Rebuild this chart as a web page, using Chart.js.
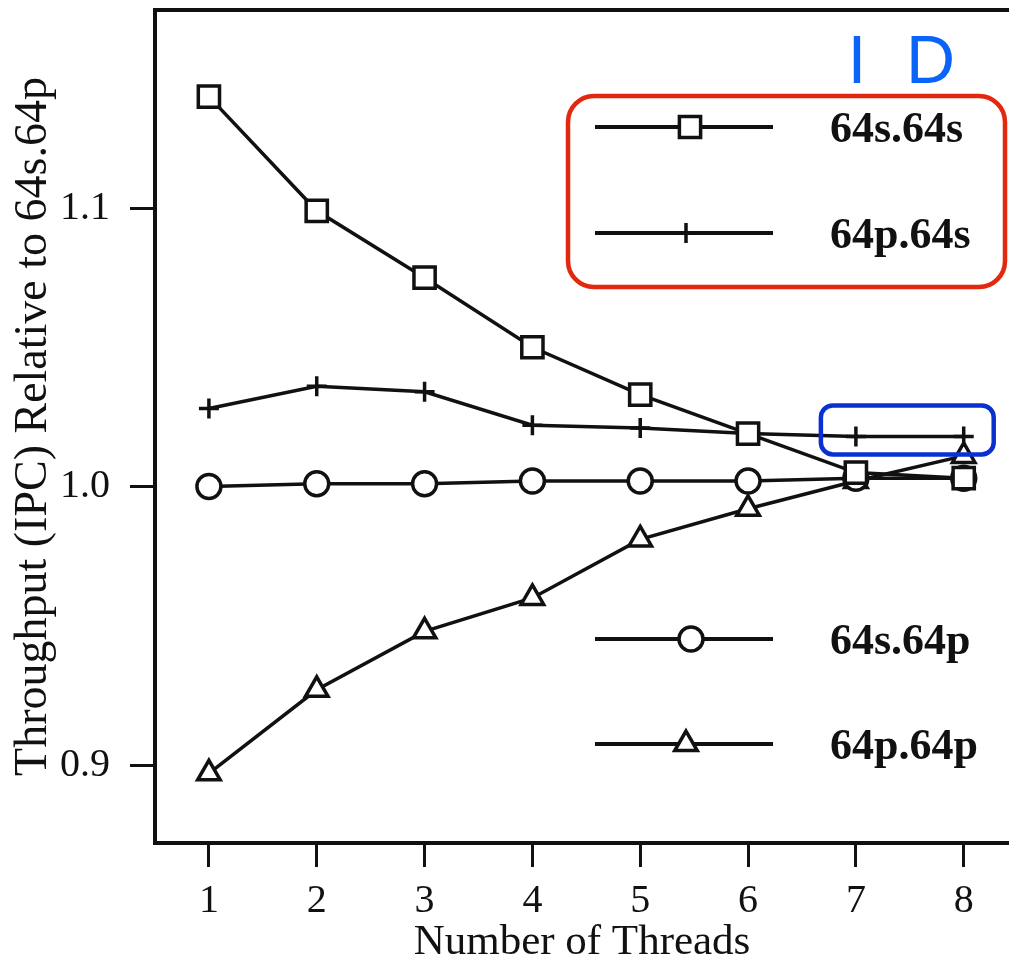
<!DOCTYPE html>
<html>
<head>
<meta charset="utf-8">
<title>Throughput relative to 64s.64p</title>
<script src="https://cdn.jsdelivr.net/npm/chart.js@4.4.1/dist/chart.umd.min.js"></script>
<style>
  html, body { margin: 0; padding: 0; background: #ffffff; overflow: hidden; }
  canvas { display: block; }
</style>
</head>
<body>
<canvas id="chart" width="1009" height="960"></canvas>
<script>
// Number of threads on the x axis
const threads = [1, 2, 3, 4, 5, 6, 7, 8];

// Throughput (IPC) relative to 64s.64p, one array per configuration
const s64s64 = [1.140, 1.099, 1.075, 1.050, 1.033, 1.019, 1.005, 1.003];
const p64s64 = [1.028, 1.036, 1.034, 1.022, 1.021, 1.019, 1.018, 1.018];
const s64p64 = [1.000, 1.001, 1.001, 1.002, 1.002, 1.002, 1.003, 1.003];
const p64p64 = [0.897, 0.927, 0.948, 0.960, 0.981, 0.992, 1.002, 1.011];

const seriesNames = ['64s.64s', '64p.64s', '64s.64p', '64p.64p'];
const seriesValues = [s64s64, p64s64, s64p64, p64p64];
const pointStyles = ['rect', 'cross', 'circle', 'triangle'];
const pointRadii = [15, 10, 12, 13];

const yTicks = [0.9, 1.0, 1.1];
const xTitle = 'Number of Threads';
const yTitle = 'Throughput (IPC) Relative to 64s.64p';

const SERIF = '"Liberation Serif", "Times New Roman", "DejaVu Serif", serif';
const SANS = '"Liberation Sans", Arial, Roboto, sans-serif';
const INK = '#111111';

const datasets = seriesNames.map((name, i) => ({
  label: name,
  data: threads.map((t, j) => ({ x: t, y: seriesValues[i][j] })),
  borderColor: INK,
  borderWidth: 3.5,
  tension: 0,
  pointStyle: pointStyles[i],
  pointRadius: pointRadii[i],
  pointHoverRadius: pointRadii[i],
  pointBorderWidth: 3.5,
  pointBorderColor: INK,
  pointBackgroundColor: '#ffffff',
  fill: false
}));

// Keep the plot area flush with the axes: no extra room for edge labels
function noEdgePadding(scale) {
  scale.paddingTop = 0;
  scale.paddingBottom = 0;
  scale.paddingLeft = 0;
  scale.paddingRight = 0;
}

// Top edge of the plot frame
const framePlugin = {
  id: 'frame',
  beforeDatasetsDraw(chart) {
    const { ctx, chartArea } = chart;
    ctx.save();
    ctx.strokeStyle = INK;
    ctx.lineWidth = 4;
    ctx.beginPath();
    ctx.moveTo(chartArea.left - 2, chartArea.top);
    ctx.lineTo(chart.width, chartArea.top);
    ctx.stroke();
    ctx.restore();
  }
};

// Two-part key drawn inside the plot
const keyPlugin = {
  id: 'key',
  afterDatasetsDraw(chart) {
    const { ctx } = chart;
    const rows = [127, 233, 639, 744];
    const markerX = [690, 686, 691, 686];
    ctx.save();
    rows.forEach((y, i) => {
      ctx.strokeStyle = INK;
      ctx.lineWidth = 4;
      ctx.beginPath();
      ctx.moveTo(595, y);
      ctx.lineTo(773, y);
      ctx.stroke();
      ctx.fillStyle = '#ffffff';
      ctx.lineWidth = 3.5;
      Chart.helpers.drawPoint(ctx, {
        pointStyle: pointStyles[i],
        radius: pointRadii[i],
        rotation: 0,
        borderWidth: 3.5
      }, markerX[i], y);
      ctx.fillStyle = INK;
      ctx.font = 'bold 44px ' + SERIF;
      ctx.textAlign = 'left';
      ctx.textBaseline = 'middle';
      ctx.fillText(seriesNames[i], 830, y + 4);
    });
    ctx.restore();
  }
};

// Highlight boxes and I / D marks
const markupPlugin = {
  id: 'markup',
  afterDraw(chart) {
    const { ctx, scales } = chart;
    ctx.save();
    // red box round the upper key
    ctx.strokeStyle = '#E2280E';
    ctx.lineWidth = 4.5;
    ctx.beginPath();
    ctx.roundRect(568, 96, 437, 191, 26);
    ctx.stroke();

    // blue box round the last 64p.64s segment
    const x7 = scales.x.getPixelForValue(threads[6]);
    const x8 = scales.x.getPixelForValue(threads[7]);
    const yp = scales.y.getPixelForValue(p64s64[7]);
    ctx.strokeStyle = '#0B30D2';
    ctx.lineWidth = 4.5;
    ctx.beginPath();
    ctx.roundRect(x7 - 35, yp - 31, (x8 - x7) + 65, 49, 12);
    ctx.stroke();

    ctx.fillStyle = '#0A64FA';
    ctx.font = '68px ' + SANS;
    ctx.textBaseline = 'alphabetic';
    ctx.textAlign = 'center';
    ctx.fillText('I', 857, 83);
    ctx.textAlign = 'left';
    ctx.fillText('D', 906, 83);
    ctx.restore();
  }
};

new Chart(document.getElementById('chart'), {
  type: 'line',
  data: { datasets },
  plugins: [framePlugin, keyPlugin, markupPlugin],
  options: {
    responsive: false,
    animation: false,
    devicePixelRatio: 1,
    layout: { autoPadding: false, padding: { top: 10, right: 0, left: 0, bottom: 0 } },
    plugins: {
      legend: { display: false },
      tooltip: { enabled: false }
    },
    events: [],
    scales: {
      x: {
        type: 'linear',
        min: 0.5,
        max: 8.42,
        afterFit(scale) { scale.height = 117; noEdgePadding(scale); },
        afterBuildTicks(scale) { scale.ticks = threads.map(v => ({ value: v })); },
        border: { display: true, width: 4, color: INK },
        grid: { drawOnChartArea: false, drawTicks: true, tickLength: 24, tickWidth: 3, tickColor: INK },
        ticks: {
          color: INK,
          padding: 10,
          maxRotation: 0,
          autoSkip: false,
          font: { family: SERIF, size: 40, lineHeight: 1.2 },
          callback: v => String(v)
        },
        title: {
          display: true,
          text: xTitle,
          color: INK,
          padding: 0,
          font: { family: SERIF, size: 43, lineHeight: 0.8 }
        }
      },
      y: {
        type: 'linear',
        min: 0.872,
        max: 1.1711,
        afterFit(scale) { scale.width = 155; noEdgePadding(scale); },
        afterBuildTicks(scale) { scale.ticks = yTicks.map(v => ({ value: v })); },
        border: { display: true, width: 4, color: INK },
        grid: { drawOnChartArea: false, drawTicks: true, tickLength: 25, tickWidth: 3, tickColor: INK },
        ticks: {
          color: INK,
          padding: 20,
          font: { family: SERIF, size: 40, lineHeight: 1.2 },
          callback: v => Number(v).toFixed(1)
        },
        title: {
          display: true,
          text: yTitle,
          color: INK,
          padding: { top: 6, bottom: 0 },
          font: { family: SERIF, size: 46, lineHeight: 1.2 }
        }
      }
    }
  }
});
</script>
</body>
</html>
